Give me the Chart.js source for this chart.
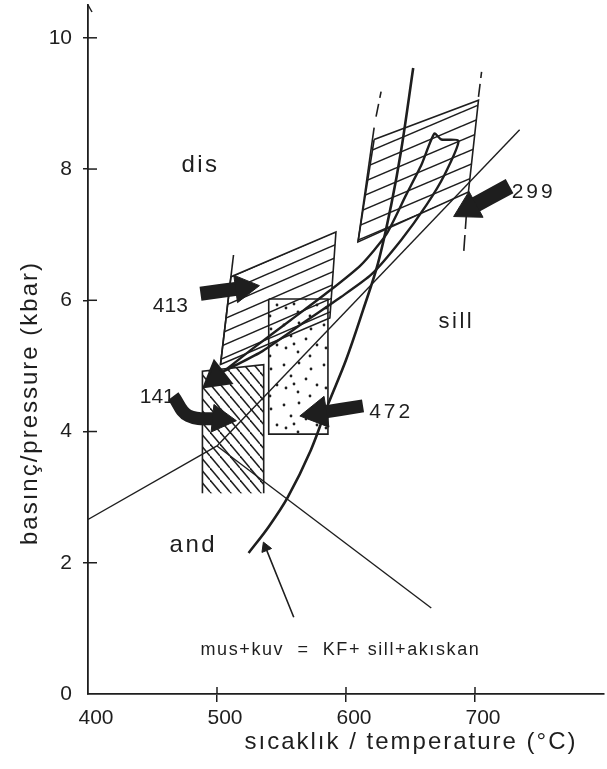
<!DOCTYPE html>
<html>
<head>
<meta charset="utf-8">
<script src="https://cdn.jsdelivr.net/npm/chart.js@4.4.1/dist/chart.umd.min.js"></script>
<style>
	html, body { margin: 0; padding: 0; background: #fff; }
	#kutu { width: 607px; height: 769px; }
</style>
</head>
<body>
<div id="kutu"><canvas id="grafik"></canvas></div>
<script>
// eksenler
var sicaklikTicks = [400, 500, 600, 700];
var basincTicks = [0, 2, 4, 6, 8, 10];

// Al2SiO5 faz sinirlari (dis / and / sill)
var kyAndT = [400, 500];
var kyAndP = [2.66, 3.78];
var kySillT = [500, 734.6];
var kySillP = [3.78, 8.60];
var andSillT = [500, 666.1];
var andSillP = [3.78, 1.31];

// mus+kuv = KF+sill+akiskan egrisi
var musKuvT = [524.5, 540.1, 554.9, 572.8, 586.0, 600.0, 613.2, 624.9, 635.0, 642.8, 652.1];
var musKuvP = [2.15, 2.55, 3.00, 3.72, 4.41, 5.09, 5.85, 6.57, 7.45, 8.29, 9.54];
var okMusT = [559.5, 537.7];
var okMusP = [1.17, 2.23];

// P-T yolu (yukari cikis, tepe, asagi inis)
var yolT = [504.3, 533.9, 565.0, 596.1, 619.5, 642.8, 662.3, 676.3, 687.2, 673.9, 668.5, 658.4, 646.7, 631.1, 611.7, 588.3, 557.2, 526.1, 499.6];
var yolP = [4.91, 5.21, 5.63, 6.05, 6.39, 6.92, 7.45, 7.91, 8.43, 8.45, 8.54, 8.06, 7.61, 7.00, 6.54, 6.16, 5.70, 5.24, 4.83];

// ornek kutulari
var kutu413T = [510.8, 592.2, 587.5, 502.7];
var kutu413P = [6.36, 7.04, 5.73, 5.02];
var kenar413T = [512.8, 502.7];
var kenar413P = [6.69, 5.02];
var kutu299T = [621.8, 702.7, 694.9, 609.3];
var kutu299P = [8.45, 9.05, 7.65, 6.89];
var kenar299T = [621.8, 609.3];
var kenar299P = [8.63, 6.89];
var kesik1T = [623.3, 627.2];
var kesik1P = [8.80, 9.18];
var kesik2T = [702.7, 705.1];
var kesik2P = [9.10, 9.48];
var kesik3T = [693.4, 691.1];
var kesik3P = [7.33, 6.69];
var kutu141T = [488.7, 536.2, 536.2, 488.7];
var kutu141P = [4.92, 5.02, 3.06, 3.06];
var kenar141T = [488.7, 488.7, 536.2, 536.2];
var kenar141P = [3.06, 4.92, 5.02, 3.06];
var kutu472T = [540.1, 586.0, 586.0, 540.1];
var kutu472P = [6.02, 6.02, 3.96, 3.96];

// ornek oklari
var ok413T = [487.2, 520.6];
var ok413P = [6.10, 6.19];
var ok141T = [466.1, 477.8, 502.7];
var ok141P = [4.54, 4.24, 4.19];
var ok472T = [613.2, 578.0];
var ok472P = [4.39, 4.28];
var ok299T = [726.8, 695.0];
var ok299P = [7.74, 7.40];

// etiketler
var etiketMetin = ['dis', 'sill', 'and', '413', '141', '472', '299'];
var etiketT = [487.2, 685.6, 481.7, 463.8, 453.7, 635.0, 745.5];
var etiketP = [8.06, 5.67, 2.26, 5.91, 4.53, 4.30, 7.65];
var denklemMetin = 'mus+kuv  =  KF+ sill+akıskan';
var denklemT = 487.2;
var denklemP = 0.67;

var YAZI = "'Liberation Sans', Arial, sans-serif";
var SIYAH = '#1e1e1e';

function noktalar(t, p, kapali) {
	var d = t.map(function(v, i){ return { x: v, y: p[i] }; });
	if (kapali) d.push({ x: t[0], y: p[0] });
	return d;
}

function yonAcisi(ctx) {
	var i = ctx.dataIndex;
	var veri = ctx.dataset.data;
	if (!i) return 0;
	var sx = ctx.chart.scales.x, sy = ctx.chart.scales.y;
	var dx = sx.getPixelForValue(veri[i].x) - sx.getPixelForValue(veri[i - 1].x);
	var dy = sy.getPixelForValue(veri[i].y) - sy.getPixelForValue(veri[i - 1].y);
	return Math.atan2(dy, dx) * 180 / Math.PI + 90;
}

var anaCtx = document.getElementById('grafik').getContext('2d');

function taramaDeseni(w, h, yukselen, kalinlik) {
	var c = document.createElement('canvas');
	c.width = w; c.height = h;
	var g = c.getContext('2d');
	g.strokeStyle = SIYAH;
	g.lineWidth = kalinlik;
	for (var k = -1; k <= 1; k++) {
		g.beginPath();
		if (yukselen) { g.moveTo(0, h + k * h); g.lineTo(w, k * h); }
		else { g.moveTo(0, k * h); g.lineTo(w, h + k * h); }
		g.stroke();
	}
	return anaCtx.createPattern(c, 'repeat');
}

function noktaDeseni() {
	var c = document.createElement('canvas');
	c.width = 40; c.height = 40;
	var g = c.getContext('2d');
	g.fillStyle = SIYAH;
	[[4,5],[19,3],[31,9],[11,16],[26,19],[37,25],[6,28],[18,32],[30,36],[14,24]].forEach(function(n){
		g.beginPath();
		g.arc(n[0], n[1], 1.4, 0, Math.PI * 2);
		g.fill();
	});
	return anaCtx.createPattern(c, 'repeat');
}

function cizgi(veri, kalinlik, ek) {
	var d = {
		data: veri,
		showLine: true,
		borderColor: SIYAH,
		borderWidth: kalinlik,
		pointRadius: 0,
		pointHoverRadius: 0,
		fill: false,
		tension: 0
	};
	for (var k in ek) d[k] = ek[k];
	return d;
}

function ok(veri, kalinlik, bas) {
	var r = veri.map(function(v, i){ return i === veri.length - 1 ? bas : 0; });
	return cizgi(veri, kalinlik, {
		tension: 0.4,
		borderCapStyle: 'butt',
		pointRadius: r,
		pointStyle: 'triangle',
		pointBackgroundColor: SIYAH,
		pointBorderColor: SIYAH,
		pointBorderWidth: 1,
		pointRotation: yonAcisi
	});
}

function kutu(veri, desen, kenarli) {
	return cizgi(veri, kenarli ? 1.6 : 0, {
		fill: 'shape',
		backgroundColor: desen
	});
}

var eklenti = {
	id: 'yazilar',
	afterDraw: function(chart) {
		var ctx = chart.ctx, sx = chart.scales.x, sy = chart.scales.y, a = chart.chartArea;
		ctx.save();
		ctx.strokeStyle = SIYAH;
		ctx.fillStyle = SIYAH;
		ctx.lineWidth = 1.5;

		// tik isaretlerinin ic kismi
		basincTicks.forEach(function(v){
			if (!v) return;
			var py = sy.getPixelForValue(v);
			ctx.beginPath(); ctx.moveTo(a.left, py); ctx.lineTo(a.left + 9, py); ctx.stroke();
		});
		sicaklikTicks.forEach(function(v){
			if (v === 400) return;
			var px = sx.getPixelForValue(v);
			ctx.beginPath(); ctx.moveTo(px, a.bottom); ctx.lineTo(px, a.bottom - 7); ctx.stroke();
		});
		// eksen ucu
		ctx.beginPath(); ctx.moveTo(a.left, a.top); ctx.lineTo(a.left + 4, a.top + 7); ctx.stroke();

		ctx.textAlign = 'center';
		ctx.textBaseline = 'middle';
		etiketMetin.forEach(function(m, i){
			var boyut = /^\d/.test(m) ? 21 : (m === 'sill' ? 22 : 24);
			ctx.font = boyut + 'px ' + YAZI;
			ctx.letterSpacing = /^\d/.test(m) ? (m === '141' || m === '413' ? '0px' : '3px') : '2.5px';
			ctx.fillText(m, sx.getPixelForValue(etiketT[i]), sy.getPixelForValue(etiketP[i]));
		});

		ctx.textAlign = 'left';
		ctx.font = '18px ' + YAZI;
		ctx.letterSpacing = '1.6px';
		ctx.fillText(denklemMetin, sx.getPixelForValue(denklemT), sy.getPixelForValue(denklemP));

		// eksen basliklari
		ctx.textAlign = 'center';
		ctx.font = '24px ' + YAZI;
		ctx.letterSpacing = '2px';
		ctx.fillText('sıcaklık / temperature (°C)', a.left + 323, a.bottom + 48);
		ctx.translate(a.left - 58, 403);
		ctx.rotate(-Math.PI / 2);
		ctx.fillText('basınç/pressure (kbar)', 0, 0);
		ctx.restore();
	}
};

var grafik = new Chart(anaCtx, {
	type: 'scatter',
	data: {
		datasets: [
			ok(noktalar(ok413T, ok413P), 14, 16),
			ok(noktalar(ok141T, ok141P), 13, 16),
			ok(noktalar(ok472T, ok472P), 13, 18),
			ok(noktalar(ok299T, ok299P), 16, 17),
			ok(noktalar(okMusT, okMusP), 1.6, 6),
			cizgi(noktalar(yolT, yolP), 2.4, {
				tension: 0.2,
				pointRadius: yolT.map(function(v, i){ return i === yolT.length - 1 ? 16 : 0; }),
				pointStyle: 'triangle',
				pointBackgroundColor: SIYAH,
				pointBorderColor: SIYAH,
				pointRotation: yonAcisi
			}),
			cizgi(noktalar(musKuvT, musKuvP), 2.6, { tension: 0.35 }),
			cizgi(noktalar(kyAndT, kyAndP), 1.4),
			cizgi(noktalar(kySillT, kySillP), 1.4),
			cizgi(noktalar(andSillT, andSillP), 1.4),
			cizgi(noktalar(kenar413T, kenar413P), 1.6),
			cizgi(noktalar(kenar299T, kenar299P), 1.6),
			cizgi(noktalar(kenar141T, kenar141P), 1.6),
			cizgi(noktalar(kesik1T, kesik1P), 1.6, { borderDash: [13, 6] }),
			cizgi(noktalar(kesik2T, kesik2P), 1.6, { borderDash: [13, 6] }),
			cizgi(noktalar(kesik3T, kesik3P), 1.6, { borderDash: [16, 6] }),
			kutu(noktalar(kutu472T, kutu472P, true), noktaDeseni(), true),
			kutu(noktalar(kutu141T, kutu141P, true), taramaDeseni(10, 12, false, 1.5), false),
			kutu(noktalar(kutu413T, kutu413P, true), taramaDeseni(30, 13, true, 1.5), true),
			kutu(noktalar(kutu299T, kutu299P, true), taramaDeseni(33, 14, true, 1.5), true)
		]
	},
	options: {
		responsive: true,
		maintainAspectRatio: false,
		animation: false,
		events: [],
		layout: { autoPadding: false, padding: { top: 5, right: 3, left: 0, bottom: 0 } },
		plugins: { legend: { display: false }, tooltip: { enabled: false } },
		scales: {
			x: {
				type: 'linear',
				min: 400,
				max: 800,
				afterBuildTicks: function(s){ s.ticks = sicaklikTicks.map(function(v){ return { value: v }; }); },
				afterFit: function(s){ s.height = 75; s.paddingLeft = 0; s.paddingRight = 0; },
				grid: {
					drawOnChartArea: false,
					drawTicks: true,
					tickLength: 8,
					lineWidth: 1.5,
					color: function(c){ return c.tick && c.tick.value === 400 ? 'rgba(0,0,0,0)' : SIYAH; }
				},
				border: { display: true, color: SIYAH, width: 1.8 },
				ticks: { font: { family: YAZI, size: 21 }, color: SIYAH, padding: 4, labelOffset: 8, maxRotation: 0, autoSkip: false }
			},
			y: {
				min: 0,
				max: 10.5,
				afterBuildTicks: function(s){ s.ticks = basincTicks.map(function(v){ return { value: v }; }); },
				afterFit: function(s){ s.width = 88; s.paddingTop = 0; s.paddingBottom = 0; },
				grid: {
					drawOnChartArea: false,
					drawTicks: true,
					tickLength: 5,
					lineWidth: 1.5,
					color: function(c){ return c.tick && c.tick.value === 0 ? 'rgba(0,0,0,0)' : SIYAH; }
				},
				border: { display: true, color: SIYAH, width: 1.8 },
				ticks: { font: { family: YAZI, size: 21 }, color: SIYAH, padding: 11 }
			}
		}
	},
	plugins: [eklenti]
});
</script>
</body>
</html>
